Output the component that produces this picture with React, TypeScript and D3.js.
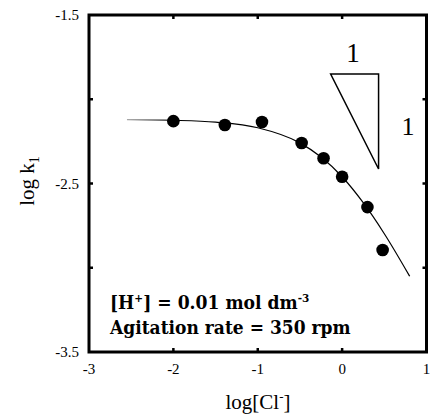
import React from "react";
import * as d3 from "d3";

const W = 430;
const H = 416;

// measured data points (log[Cl-], log k1)
const ptX = [-2.0, -1.39, -0.95, -0.48, -0.22, 0.0, 0.3, 0.48];
const ptY = [-2.13, -2.153, -2.135, -2.26, -2.35, -2.46, -2.64, -2.895];

// fitted curve
const curveX = [-2.55, -2.0, -1.5, -1.0, -0.5, -0.25, 0.0, 0.25, 0.5, 0.8];
const curveY = [-2.121, -2.125, -2.136, -2.169, -2.259, -2.343, -2.46, -2.614, -2.798, -3.05];

const xTicks = [-3, -2, -1, 0, 1];
const yTicks = [-1.5, -2, -2.5, -3, -3.5];
const xTickLabels = ["-3", "-2", "-1", "0", "1"];
const yTickLabels = ["-1.5", "", "-2.5", "", "-3.5"];

// slope triangle (data coords)
const triX = [-0.136, 0.432, 0.432];
const triY = [-1.85, -1.85, -2.414];

export default function App() {
  const x = d3.scaleLinear().domain([-3, 1]).range([89, 426.5]);
  const y = d3.scaleLinear().domain([-1.5, -3.5]).range([15, 352]);

  const line = d3
    .line<number>()
    .x((_, i) => x(curveX[i]))
    .y((_, i) => y(curveY[i]))
    .curve(d3.curveMonotoneX);
  const curvePath = line(curveX) || "";

  const triPath =
    d3.line<number>().x((_, i) => x(triX[i])).y((_, i) => y(triY[i]))(triX) + "Z";

  const serif = "'Liberation Serif', 'Times New Roman', serif";
  const boldSerif = "'DejaVu Serif', serif";
  const x0 = x(-3), x1 = x(1), y0 = y(-1.5), y1 = y(-3.5);
  const tl = 4;

  return (
    <svg
      width={W}
      height={H}
      style={{ position: "absolute", left: 0, top: 0, background: "#fff" }}
    >
      <defs>
        <linearGradient
          id="fade"
          gradientUnits="userSpaceOnUse"
          x1={x(-2.55)}
          y1={0}
          x2={x(-1.95)}
          y2={0}
        >
          <stop offset="0" stopColor="#aaa" />
          <stop offset="1" stopColor="#000" />
        </linearGradient>
      </defs>

      {/* curve */}
      <path d={curvePath} fill="none" stroke="url(#fade)" strokeWidth={1.2} />

      {/* points */}
      {ptX.map((v, i) => (
        <circle key={i} cx={x(v)} cy={y(ptY[i])} r={6.3} fill="#000" />
      ))}

      {/* slope triangle */}
      <path d={triPath} fill="none" stroke="#000" strokeWidth={1.5} />
      <text x={353} y={62} fontFamily={serif} fontSize={27} textAnchor="middle">1</text>
      <text x={408} y={135} fontFamily={serif} fontSize={26} textAnchor="middle">1</text>

      {/* frame */}
      <rect
        x={x0}
        y={y0}
        width={x1 - x0}
        height={y1 - y0}
        fill="none"
        stroke="#000"
        strokeWidth={3}
      />
      {/* ticks */}
      {xTicks.slice(1, -1).map((t) => (
        <g key={"xt" + t}>
          <line x1={x(t)} x2={x(t)} y1={y1} y2={y1 - tl} stroke="#000" strokeWidth={2.5} />
          <line x1={x(t)} x2={x(t)} y1={y0} y2={y0 + tl} stroke="#000" strokeWidth={2.5} />
        </g>
      ))}
      {yTicks.slice(1, -1).map((t) => (
        <g key={"yt" + t}>
          <line x1={x0} x2={x0 + tl} y1={y(t)} y2={y(t)} stroke="#000" strokeWidth={2.5} />
          <line x1={x1} x2={x1 - tl} y1={y(t)} y2={y(t)} stroke="#000" strokeWidth={2.5} />
        </g>
      ))}

      {/* tick labels */}
      {xTicks.map((t, i) => (
        <text
          key={"xl" + t}
          x={x(t)}
          y={374}
          fontFamily={serif}
          fontSize={15}
          textAnchor="middle"
        >
          {xTickLabels[i]}
        </text>
      ))}
      {yTicks.map((t, i) =>
        yTickLabels[i] ? (
          <text
            key={"yl" + t}
            x={79}
            y={y(t) + 5}
            fontFamily={serif}
            fontSize={15}
            textAnchor="end"
          >
            {yTickLabels[i]}
          </text>
        ) : null
      )}

      {/* axis titles */}
      <text x={258} y={409} fontFamily={serif} fontSize={21} textAnchor="middle">
        log[Cl<tspan dy={-8} fontSize={13}>-</tspan>
        <tspan dy={8}>]</tspan>
      </text>
      <text
        transform="translate(34,181) rotate(-90)"
        fontFamily={serif}
        fontSize={21}
        textAnchor="middle"
      >
        log k<tspan dy={5} fontSize={14}>1</tspan>
      </text>

      {/* annotation */}
      <g fontFamily={boldSerif} fontWeight="bold" fontSize={18}>
        <text transform="translate(110,309) scale(0.955,1)">
          [H<tspan dy={-7} fontSize={11}>+</tspan>
          <tspan dy={7}>] = 0.01 mol dm</tspan>
          <tspan dy={-7} fontSize={11}>-3</tspan>
        </text>
        <text transform="translate(110,334) scale(0.95,1)">
          Agitation rate = 350 rpm
        </text>
      </g>
    </svg>
  );
}
